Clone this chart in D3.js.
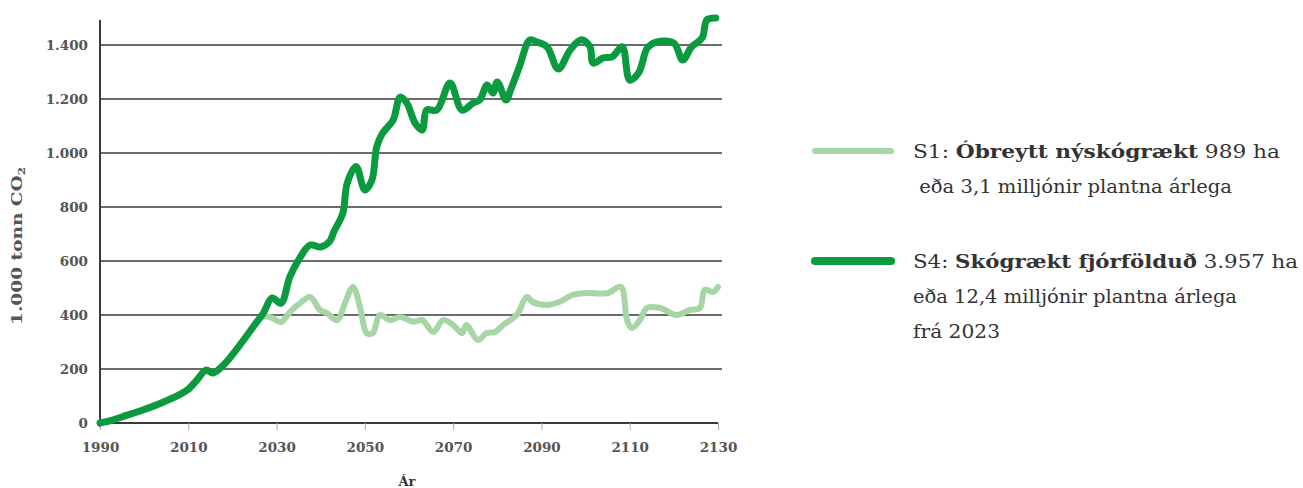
<!DOCTYPE html>
<html lang="is">
<head>
  <meta charset="UTF-8">
  <title>Skógrækt CO2</title>
  <script src="https://d3js.org/d3.v7.min.js"></script>
  <style>
    body { margin: 0; background: #fff; }
    text { font-family: "DejaVu Serif", "Liberation Serif", serif; }
  </style>
</head>
<body>
  <div id="canvas"></div>
  <script>
    // S4: Skógrækt fjórfölduð
    const s4Years = [1990, 1993, 1996, 2000, 2004, 2008, 2010, 2012, 2014, 2015.6, 2018, 2022, 2025, 2027, 2029, 2031, 2033, 2035, 2037.6, 2040, 2042, 2043, 2045, 2046, 2048, 2050, 2051.6, 2052.7, 2054, 2056.4, 2058, 2059.5, 2061.4, 2063, 2064, 2066.3, 2069.3, 2072, 2074.5, 2076, 2077.7, 2079, 2080, 2082, 2083, 2085, 2087.4, 2089, 2091.3, 2093.8, 2096.5, 2099, 2101, 2101.7, 2104, 2106, 2108.3, 2110, 2112, 2114, 2116, 2120, 2122, 2124, 2126.4, 2127.5, 2129.5];
    const s4Values = [0, 12, 28, 50, 75, 105, 125, 160, 196, 185, 215, 296, 363, 407, 463, 444, 541, 604, 659, 652, 672, 709, 777, 888, 950, 863, 900, 1024, 1073, 1122, 1207, 1185, 1110, 1085, 1159, 1159, 1259, 1159, 1185, 1196, 1252, 1222, 1263, 1196, 1233, 1319, 1419, 1411, 1393, 1311, 1381, 1419, 1393, 1333, 1352, 1356, 1393, 1270, 1296, 1389, 1411, 1407, 1344, 1393, 1426, 1493, 1500];

    // S1: Óbreytt nýskógrækt (fylgir S4 til ~2025)
    const s1Years = [2025, 2027, 2029, 2031, 2033, 2035.3, 2037.6, 2039.8, 2041.4, 2043.7, 2045.5, 2047.3, 2048.9, 2050.4, 2051.8, 2053.4, 2055.7, 2058, 2061, 2063, 2065.5, 2067.7, 2070, 2072, 2073, 2075.6, 2077.6, 2079.5, 2081.3, 2084.4, 2086.7, 2088, 2091.3, 2094, 2097, 2100, 2105, 2108, 2109.4, 2110.5, 2112.3, 2113.9, 2116.9, 2120.6, 2123.6, 2125.9, 2127, 2128.9, 2130];
    const s1Values = [363, 395, 389, 374, 411, 444, 467, 419, 407, 381, 444, 504, 430, 333, 333, 400, 381, 393, 375, 381, 337, 381, 363, 333, 363, 307, 333, 337, 363, 400, 467, 448, 437, 448, 474, 481, 481, 504, 381, 352, 381, 426, 426, 400, 419, 426, 493, 485, 504];

    const yTicks = [0, 200, 400, 600, 800, 1000, 1200, 1400];
    const xTicks = [1990, 2010, 2030, 2050, 2070, 2090, 2110, 2130];

    const width = 1303, height = 488;
    const padLeft = 100, padRight = 718, padTop = 20, padBottom = 423;

    const x = d3.scaleLinear().domain([1990, 2130]).range([padLeft, padRight]);
    const y = d3.scaleLinear().domain([0, 1400]).range([padBottom, padBottom - 378]);

    const svg = d3.select('#canvas').append('svg')
      .attr('width', width).attr('height', height);

    // gridlines
    svg.append('g').selectAll('line').data(yTicks.slice(1)).enter().append('line')
      .attr('x1', padLeft).attr('x2', 722)
      .attr('y1', d => y(d)).attr('y2', d => y(d))
      .attr('stroke', '#3a3a3a').attr('stroke-width', 1.6);

    // y axis
    const yAxis = svg.append('g').attr('transform', 'translate(' + padLeft + ',0)')
      .call(d3.axisLeft(y).tickValues(yTicks).tickSize(0).tickPadding(12)
        .tickFormat(d => d3.format(',')(d).replace(',', '.')));
    yAxis.select('.domain').remove();
    yAxis.selectAll('text').attr('fill', '#555').style('font-size', '13.5px').style('font-weight', 'bold')
      .style('font-family', '"DejaVu Serif", serif');
    svg.append('line').attr('x1', padLeft).attr('x2', padLeft).attr('y1', padTop).attr('y2', padBottom + 4)
      .attr('stroke', '#3a3a3a').attr('stroke-width', 2);

    // x axis
    const xAxis = svg.append('g').attr('transform', 'translate(0,' + padBottom + ')')
      .call(d3.axisBottom(x).tickValues(xTicks).tickSize(7).tickPadding(12).tickFormat(d3.format('d')));
    xAxis.select('.domain').attr('stroke', '#3a3a3a').attr('stroke-width', 2).attr('d', 'M' + padLeft + ',0H' + padRight);
    xAxis.selectAll('.tick line').attr('stroke', '#aaa').attr('stroke-width', 1);
    xAxis.selectAll('text').attr('fill', '#555').style('font-size', '13.5px').style('font-weight', 'bold')
      .style('font-family', '"DejaVu Serif", serif');

    // axis titles
    svg.append('text').attr('transform', 'translate(22,' + 246 + ') rotate(-90)')
      .attr('text-anchor', 'middle').attr('fill', '#555')
      .attr('textLength', 158).attr('lengthAdjust', 'spacingAndGlyphs')
      .style('font-size', '14px').style('font-weight', 'bold')
      .html('1.000 tonn CO<tspan font-size="9" dy="3">2</tspan>');
    svg.append('text').attr('x', 407).attr('y', 486).attr('text-anchor', 'middle')
      .attr('fill', '#333').style('font-size', '13px').style('font-weight', 'bold').text('Ár');

    // lines
    const line = d3.line().x(d => x(d[0])).y(d => y(d[1])).curve(d3.curveCatmullRom.alpha(0.5));
    svg.append('path').datum(d3.zip(s1Years, s1Values))
      .attr('d', line).attr('fill', 'none').attr('stroke', '#a6d5a6')
      .attr('stroke-width', 6).attr('stroke-linejoin', 'round').attr('stroke-linecap', 'round');
    svg.append('path').datum(d3.zip(s4Years, s4Values))
      .attr('d', line).attr('fill', 'none').attr('stroke', '#0c9a3e')
      .attr('stroke-width', 7).attr('stroke-linejoin', 'round').attr('stroke-linecap', 'round');

    // legend
    const legend = svg.append('g').attr('id', 'legend');
    const items = [
      { color: '#a6d5a6', y: 151, w: 6, lines: [
        ['S1: <tspan font-weight="bold">Óbreytt nýskógrækt</tspan> 989 ha', 367],
        ['\u00a0eða 3,1 milljónir plantna árlega', 319]] },
      { color: '#0c9a3e', y: 261, w: 8, lines: [
        ['S4: <tspan font-weight="bold">Skógrækt fjórfölduð</tspan> 3.957 ha', 385],
        ['eða 12,4 milljónir plantna árlega', 324],
        ['frá 2023', 87]] }
    ];
    items.forEach(it => {
      legend.append('line').attr('x1', 815).attr('x2', 891).attr('y1', it.y).attr('y2', it.y)
        .attr('stroke', it.color).attr('stroke-width', it.w).attr('stroke-linecap', 'round');
      it.lines.forEach((l, i) => {
        legend.append('text').attr('x', 913).attr('y', it.y + 7 + i * 35)
          .attr('fill', '#333').style('font-size', '19px')
          .attr('textLength', l[1]).attr('lengthAdjust', 'spacingAndGlyphs')
          .html(l[0]);
      });
    });
  </script>
</body>
</html>
